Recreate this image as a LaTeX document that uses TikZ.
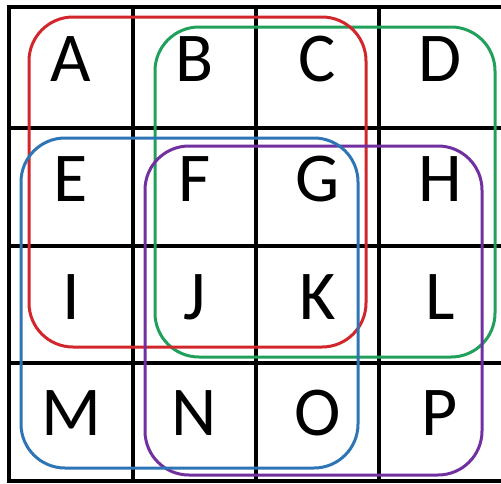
\documentclass[tikz,border=0pt]{standalone}
\usepackage{fontspec}
\setmainfont{Carlito}
\definecolor{cred}{HTML}{D0262C}
\definecolor{cgreen}{HTML}{20A05A}
\definecolor{cblue}{HTML}{2E75B6}
\definecolor{cpurple}{HTML}{7030A0}
\begin{document}
\begin{tikzpicture}[x=1pt,y=-1pt,
  gridline/.style={line width=4pt,black},
  region/.style={line width=3pt,rounded corners=44pt},
  letter/.style={font=\fontsize{70}{70}\selectfont,inner sep=0pt,anchor=center}]
\useasboundingbox (0,0) rectangle (501,483);
\fill[white] (0,0) rectangle (501,483);
% grid
\foreach \x in {9,133,256,379} \draw[gridline] (\x,7) -- (\x,483);
\foreach \y in {7,128,246,363,481} \draw[gridline] (7,\y) -- (501,\y);
% letters
\node[letter] (A) at (71,59) {A};
\node[letter] (B) at (194.5,59) {B};
\node[letter] (C) at (317.5,59) {C};
\node[letter] (D) at (440,59) {D};
\node[letter] (E) at (71,179) {E};
\node[letter] (F) at (194.5,179) {F};
\node[letter] (G) at (317.5,179) {G};
\node[letter] (H) at (440,179) {H};
\node[letter] (I) at (71,297) {I};
\node[letter] (J) at (194.5,297) {J};
\node[letter] (K) at (317.5,297) {K};
\node[letter] (L) at (440,297) {L};
\node[letter] (M) at (71,413) {M};
\node[letter] (N) at (194.5,413) {N};
\node[letter] (O) at (317.5,413) {O};
\node[letter] (P) at (440,413) {P};
% regions
\draw[region,cgreen] (155,27) rectangle (495,357);
\draw[region,cred] (29,17) rectangle (366,347);
\draw[region,cpurple] (145,146) rectangle (482,475);
\draw[region,cblue] (21,138) rectangle (358,468);
\end{tikzpicture}
\end{document}
